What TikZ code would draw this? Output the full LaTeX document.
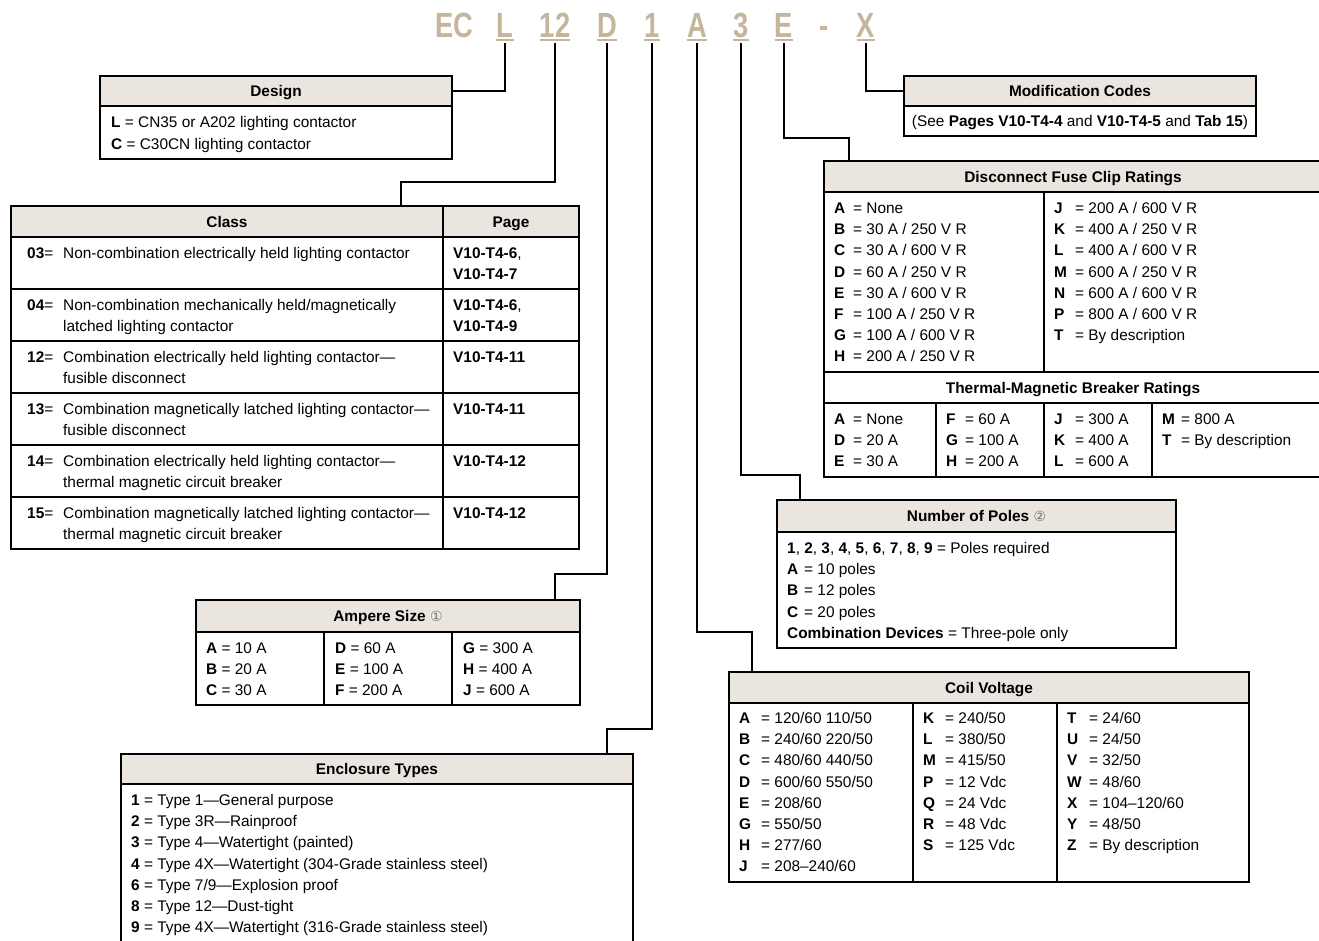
\documentclass[tikz,border=0pt]{standalone}
\usepackage{fontspec}
\setmainfont{Liberation Sans}
\newfontfamily\titlefont[FakeStretch=0.78]{Liberation Sans}
\newfontfamily\circfont{DejaVu Sans}
\usepackage{tikz}
\usetikzlibrary{calc}
\definecolor{headfill}{HTML}{EAE6DF}
\definecolor{codetan}{HTML}{C4B59C}
\newcommand{\bodysize}{\fontsize{15.4}{18}\selectfont}
\newcommand{\ky}[2][19pt]{\makebox[#1][l]{\textbf{#2}}}
\newcommand{\circno}[1]{{\circfont\mdseries\fontsize{14}{14}\selectfont\color{black!55}#1}}

\begin{document}
\begin{tikzpicture}[x=1pt,y=-1pt,
  every node/.style={font=\bodysize, inner sep=0pt},
  code/.style={anchor=base, text=codetan, text depth=0pt, font=\titlefont\bfseries\fontsize{35}{38}\selectfont},
  head/.style={draw, line width=1.1pt, fill=headfill, font=\bodysize\bfseries, text height=11.8pt, text depth=0pt},
  txt/.style={anchor=base west},
  box/.style={line width=1.1pt},
  wire/.style={line width=2pt}]
\fill[white] (0,0) rectangle (1319,940);
\useasboundingbox (0,0) rectangle (1319,940);

\node[code] (cEC) at (454,37) {EC};
\node[code] (cdash) at (824,37) {-};
\foreach \n/\c/\x in {cL/L/505,c12/12/555,cD/D/607,c1/1/652,cA/A/697,c3/3/741,cE/E/784,cX/X/866}{
  \node[code] (\n) at (\x,37) {\c};
  \draw[codetan,line width=2.2pt] ([yshift=-2.5pt]\n.south west) -- ([yshift=-2.5pt]\n.south east);
}

\node[head,minimum width=352pt,minimum height=30pt] (dhead) at (276,91) {Design};
\draw[box] (100,106) rectangle (452,159);
\node[txt] (d1) at (111,127.5) {\textbf{L} = CN35 or A202 lighting contactor};
\node[txt] (d2) at (111,149.5) {\textbf{C} = C30CN lighting contactor};

\node[head,minimum width=352pt,minimum height=30pt] (mhead) at (1080,91) {Modification Codes};
\draw[box] (904,106) rectangle (1256,136);
\node[anchor=base] (m1) at (1080,126.5) {(See \textbf{Pages V10-T4-4} and \textbf{V10-T4-5} and \textbf{Tab 15})};

\node[head,minimum width=568pt,minimum height=31pt] (chead) at (295,221.5) {};
\node[anchor=base,font=\bodysize\bfseries] (ctitle) at (227,227) {Class};
\node[anchor=base,font=\bodysize\bfseries] (ptitle) at (511,227) {Page};
\draw[box] (11,237) rectangle (579,549) (443,206) -- (443,549);
\foreach \r in {289,341,393,445,497} \draw[box] (11,\r) -- (579,\r);
\foreach \cod/\lna/\lnb/\pga/\pgb [count=\i from 0] in {
  03/{Non-combination electrically held lighting contactor}/{}/{\textbf{V10-T4-6},}/{\textbf{V10-T4-7}},
  04/{Non-combination mechanically held/magnetically}/{latched lighting contactor}/{\textbf{V10-T4-6},}/{\textbf{V10-T4-9}},
  12/{Combination electrically held lighting contactor—}/{fusible disconnect}/{\textbf{V10-T4-11}}/{},
  13/{Combination magnetically latched lighting contactor—}/{fusible disconnect}/{\textbf{V10-T4-11}}/{},
  14/{Combination electrically held lighting contactor—}/{thermal magnetic circuit breaker}/{\textbf{V10-T4-12}}/{},
  15/{Combination magnetically latched lighting contactor—}/{thermal magnetic circuit breaker}/{\textbf{V10-T4-12}}/{}}{
  \node[txt] (ca\i) at (27,258.5+52*\i) {\makebox[36pt][l]{\textbf{\cod}=}\lna};
  \node[txt] (cb\i) at (63,279.5+52*\i) {\lnb};
  \node[txt] (pa\i) at (453,258.5+52*\i) {\pga};
  \node[txt] (pb\i) at (453,279.5+52*\i) {\pgb};
}

\node[head,minimum width=498pt,minimum height=31pt] (fhead) at (1073,176.5) {Disconnect Fuse Clip Ratings};
\draw[box] (824,192) rectangle (1322,477) (1044,192) -- (1044,372) (824,372) -- (1322,372);
\node[head,fill=white,minimum width=498pt,minimum height=31pt] (thead) at (1073,387.5) {Thermal-Magnetic Breaker Ratings};
\foreach \x in {936,1044,1152} \draw[box] (\x,403) -- (\x,477);
\foreach \k/\v [count=\i from 0] in {A/None,B/{30 A / 250 V R},C/{30 A / 600 V R},D/{60 A / 250 V R},E/{30 A / 600 V R},F/{100 A / 250 V R},G/{100 A / 600 V R},H/{200 A / 250 V R}}
  \node[txt] (fa\i) at (834,213.5+21.2*\i) {\ky{\k}= \v};
\foreach \k/\v [count=\i from 0] in {J/{200 A / 600 V R},K/{400 A / 250 V R},L/{400 A / 600 V R},M/{600 A / 250 V R},N/{600 A / 600 V R},P/{800 A / 600 V R},T/By description}
  \node[txt] (fb\i) at (1054,213.5+21.2*\i) {\ky[21pt]{\k}= \v};
\foreach \k/\v [count=\i from 0] in {A/None,D/20 A,E/30 A}
  \node[txt] (ta\i) at (834,424.5+21.2*\i) {\ky{\k}= \v};
\foreach \k/\v [count=\i from 0] in {F/60 A,G/100 A,H/200 A}
  \node[txt] (tb\i) at (946,424.5+21.2*\i) {\ky{\k}= \v};
\foreach \k/\v [count=\i from 0] in {J/300 A,K/400 A,L/600 A}
  \node[txt] (tc\i) at (1054,424.5+21.2*\i) {\ky[21pt]{\k}= \v};
\foreach \k/\v [count=\i from 0] in {M/800 A,T/By description}
  \node[txt] (td\i) at (1162,424.5+21.2*\i) {\ky{\k}= \v};

\node[head,minimum width=399pt,minimum height=32pt] (phead) at (976.5,516) {Number of Poles \circno{②}};
\draw[box] (777,532) rectangle (1176,648);
\node[txt] (p0) at (787,553.5) {\textbf{1}, \textbf{2}, \textbf{3}, \textbf{4}, \textbf{5}, \textbf{6}, \textbf{7}, \textbf{8}, \textbf{9} = Poles required};
\foreach \k/\v [count=\i from 1] in {A/10 poles,B/12 poles,C/20 poles}
  \node[txt] (p\i) at (787,553.5+21.2*\i) {\ky[17pt]{\k}= \v};
\node[txt] (p4) at (787,638.3) {\textbf{Combination Devices} = Three-pole only};

\node[head,minimum width=384pt,minimum height=32pt] (ahead) at (388,616) {Ampere Size \circno{①}};
\draw[box] (196,632) rectangle (580,705) (324,632) -- (324,705) (452,632) -- (452,705);
\foreach \x/\lst [count=\j] in {206/{A/10,B/20,C/30},335/{D/60,E/100,F/200},463/{G/300,H/400,J/600}}
  \foreach \k/\v [count=\i from 0] in \lst
    \node[txt] (a\j\i) at (\x,653.5+21*\i) {\textbf{\k} = \v{} A};

\node[head,minimum width=520pt,minimum height=31pt] (vhead) at (989,687.5) {Coil Voltage};
\draw[box] (729,703) rectangle (1249,882) (913,703) -- (913,882) (1057,703) -- (1057,882);
\foreach \k/\v [count=\i from 0] in {A/{120/60 110/50},B/{240/60 220/50},C/{480/60 440/50},D/{600/60 550/50},E/{208/60},G/{550/50},H/{277/60},J/{208–240/60}}
  \node[txt] (va\i) at (739,723.5+21.2*\i) {\ky[22pt]{\k}= \v};
\foreach \k/\v [count=\i from 0] in {K/{240/50},L/{380/50},M/{415/50},P/12 Vdc,Q/24 Vdc,R/48 Vdc,S/125 Vdc}
  \node[txt] (vb\i) at (923,723.5+21.2*\i) {\ky[22pt]{\k}= \v};
\foreach \k/\v [count=\i from 0] in {T/{24/60},U/{24/50},V/{32/50},W/{48/60},X/{104–120/60},Y/{48/50},Z/By description}
  \node[txt] (vc\i) at (1067,723.5+21.2*\i) {\ky[22pt]{\k}= \v};

\node[head,minimum width=512pt,minimum height=30pt] (ehead) at (377,769) {Enclosure Types};
\draw[box] (121,784) -- (121,950) (633,784) -- (633,950);
\foreach \k/\v [count=\i from 0] in {1/Type 1—General purpose,2/Type 3R—Rainproof,3/Type 4—Watertight (painted),4/Type 4X—Watertight (304-Grade stainless steel),6/{Type 7/9—Explosion proof},8/Type 12—Dust-tight,9/Type 4X—Watertight (316-Grade stainless steel)}
  \node[txt] (e\i) at (131,805.5+21.2*\i) {\textbf{\k} = \v};

\draw[wire] ([yshift=-6pt]cL.south) |- (dhead.east);
\draw[wire] ([yshift=-6pt]c12.south) -- ++(0,139) -| ([xshift=106pt]chead.north);
\draw[wire] ([yshift=-6pt]cD.south) -- ++(0,531) -| ([xshift=167pt]ahead.north);
\draw[wire] ([yshift=-6pt]c1.south) -- ++(0,686) -| ([xshift=230pt]ehead.north);
\draw[wire] ([yshift=-6pt]cA.south) -- ++(0,589) -| ([xshift=-237pt]vhead.north);
\draw[wire] ([yshift=-6pt]c3.south) -- ++(0,432) -| ([xshift=-176.5pt]phead.north);
\draw[wire] ([yshift=-6pt]cE.south) -- ++(0,95) -| ([xshift=-224pt]fhead.north);
\draw[wire] ([yshift=-6pt]cX.south) |- (mhead.west);
\end{tikzpicture}
\end{document}
